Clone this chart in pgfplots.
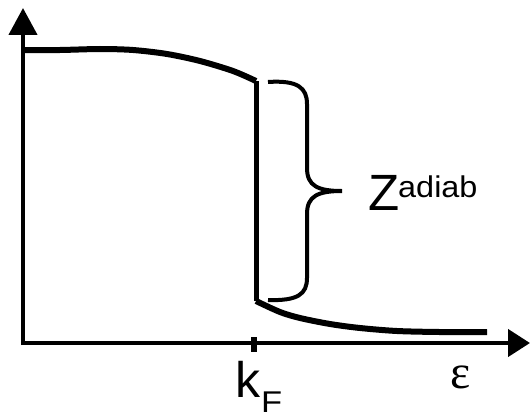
\documentclass[border=0pt]{standalone}
\usepackage{pgfplots}
\pgfplotsset{compat=1.18}
\usepackage{fontspec}
\setmainfont{Liberation Sans}
\newfontfamily\greekserif{Liberation Serif}
\usetikzlibrary{arrows.meta}

% Occupation curve: smooth part below k_F, jump, tail above k_F
\pgfplotstableread{
x y
23 50
60 50
100 49
133 50
167 54
200 61
233 71
256 81
}\below
\pgfplotstableread{
x y
256 301
280 312
300 318
330 324
360 328
397 331
440 332
487 332
}\above

\begin{document}
\begin{tikzpicture}
\begin{axis}[
  scale only axis, width=530bp, height=413bp,
  xmin=0, xmax=530, ymin=0, ymax=413, y dir=reverse,
  hide axis, clip=false,
]
% axes with arrow heads
\draw[line width=4.3bp, -{Triangle[length=27bp,width=28bp]}]
  (axis cs:23,345) -- (axis cs:23,8);
\draw[line width=4.3bp, -{Triangle[length=22bp,width=27bp]}]
  (axis cs:21,343) -- (axis cs:530,343);
% tick at k_F
\draw[line width=6bp] (axis cs:253.5,337) -- (axis cs:253.5,352);

% the distribution
\addplot[line width=6bp, smooth, tension=0.5] table {\below};
\addplot[line width=5bp] coordinates {(256,81) (256,301)};
\addplot[line width=6bp, smooth, tension=0.5] table {\above};

% brace spanning the jump
\draw[line width=4bp]
  (axis cs:268,82) .. controls (axis cs:298,80) and (axis cs:307,88) .. (axis cs:307,104)
  -- (axis cs:307,168)
  .. controls (axis cs:307,186) and (axis cs:318,191) .. (axis cs:342,191)
  .. controls (axis cs:318,191) and (axis cs:307,196) .. (axis cs:307,214)
  -- (axis cs:307,278)
  .. controls (axis cs:307,294) and (axis cs:298,301) .. (axis cs:268,300);

% labels
\node[anchor=base west, inner sep=0pt, font=\fontsize{51bp}{60bp}\selectfont]
  at (axis cs:368,210) {Z};
\node[anchor=base west, inner sep=0pt, xscale=1.08, font=\fontsize{30bp}{36bp}\selectfont]
  at (axis cs:398,197) {adiab};
\node[anchor=base west, inner sep=0pt, font=\fontsize{50bp}{58bp}\selectfont]
  at (axis cs:235,397) {k};
\node[anchor=base west, inner sep=0pt, xscale=1.15, font=\fontsize{30bp}{36bp}\selectfont]
  at (axis cs:261,412) {F};
\node[anchor=base west, inner sep=0pt, font=\greekserif\fontsize{48bp}{56bp}\selectfont]
  at (axis cs:450,388) {ε};
\end{axis}
\pgfresetboundingbox
\useasboundingbox (current axis.south west) rectangle (current axis.north east);
\end{tikzpicture}
\end{document}
